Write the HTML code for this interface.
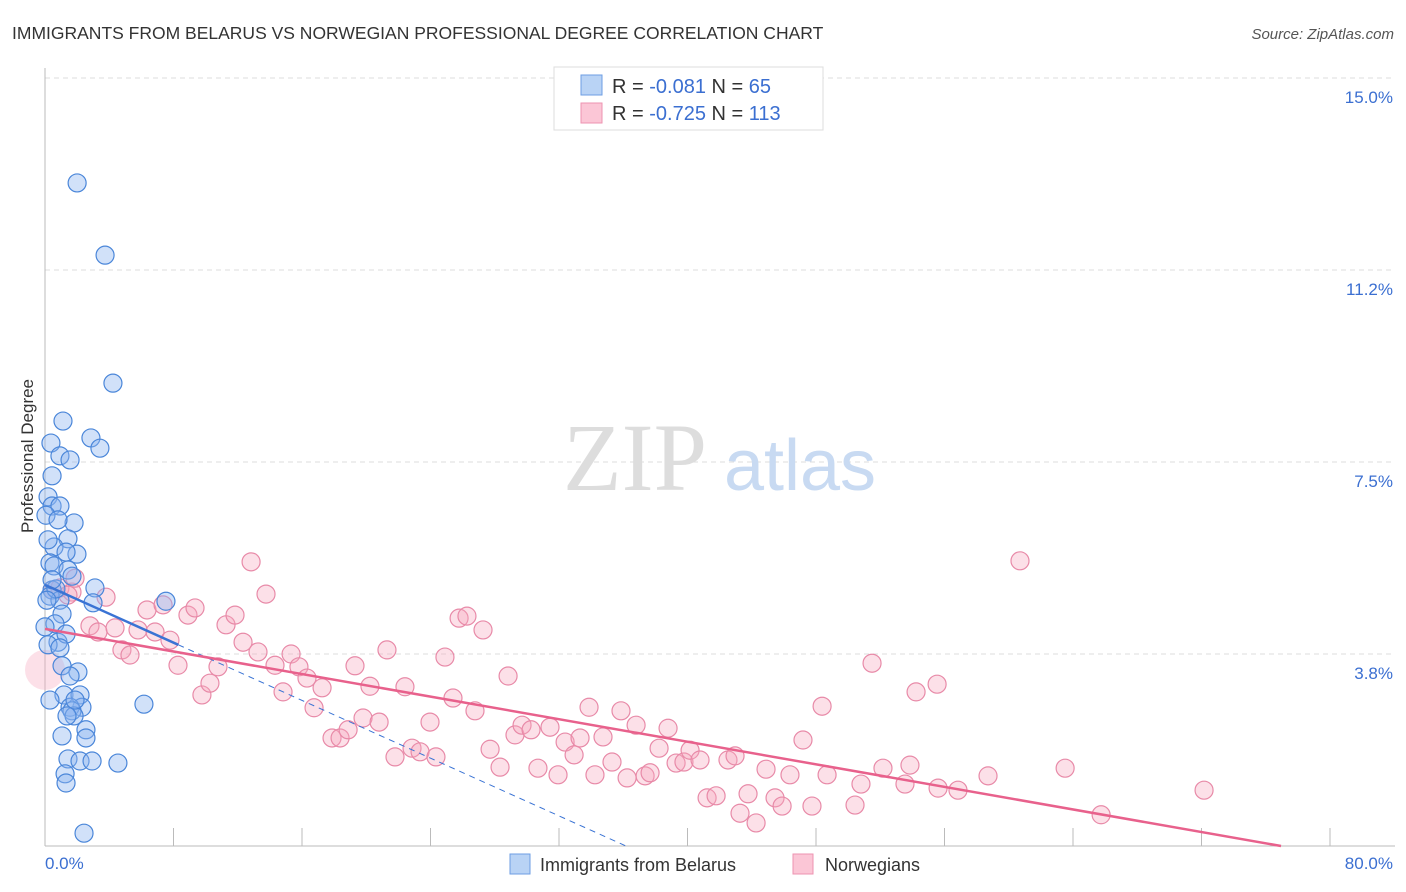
<!DOCTYPE html>
<html><head><meta charset="utf-8"><style>
body{margin:0;background:#fff;font-family:"Liberation Sans",sans-serif}
svg{display:block}
</style></head><body>
<svg id="chart" width="1406" height="892" xmlns="http://www.w3.org/2000/svg">
<text x="12" y="39" font-size="17.5" fill="#333">IMMIGRANTS FROM BELARUS VS NORWEGIAN PROFESSIONAL DEGREE CORRELATION CHART</text>
<text x="1394" y="39" font-size="15" fill="#555" font-style="italic" text-anchor="end">Source: ZipAtlas.com</text>
<g id="grid"></g>
<g>
<text x="635" y="490" font-family="Liberation Serif,serif" font-size="96" fill="#ddd" text-anchor="middle">ZIP</text>
<text x="800" y="490" font-size="72" fill="#c8daf2" text-anchor="middle">atlas</text>
</g>
<line x1="45" y1="68" x2="45" y2="846" stroke="#bbb"/>
<line x1="45" y1="846" x2="1395" y2="846" stroke="#bbb"/>
<text transform="translate(33,456) rotate(-90)" font-size="17" fill="#333" text-anchor="middle">Professional Degree</text>
<text x="45" y="869" font-size="17" fill="#3b6fd1">0.0%</text>
<text x="1393" y="869" font-size="17" fill="#3b6fd1" text-anchor="end">80.0%</text>
<g id="pts"></g>
<g id="lines"></g>
<g>
<rect x="554" y="67" width="269" height="63" fill="#fff" stroke="#ddd"/>
<rect x="581" y="75" width="21" height="20" fill="#b9d3f5" stroke="#6d9ee3"/>
<rect x="581" y="103" width="21" height="20" fill="#fbc6d6" stroke="#ee93b0"/>
<text x="612" y="93" font-size="20" fill="#333">R = <tspan fill="#3b6fd1">-0.081</tspan>   N = <tspan fill="#3b6fd1"> 65</tspan></text>
<text x="612" y="120" font-size="20" fill="#333">R = <tspan fill="#3b6fd1">-0.725</tspan>   N = <tspan fill="#3b6fd1">113</tspan></text>
</g>
<g>
<rect x="510" y="854" width="20" height="20" fill="#b9d3f5" stroke="#6d9ee3"/>
<text x="540" y="871" font-size="18" fill="#333">Immigrants from Belarus</text>
<rect x="793" y="854" width="20" height="20" fill="#fbc6d6" stroke="#ee93b0"/>
<text x="825" y="871" font-size="18" fill="#333">Norwegians</text>
</g>
</svg>
<script>
const yTicks=[3.75,7.5,11.25,15];
const yTickLabels=["3.8%","7.5%","11.2%","15.0%"];
const xTicks=[8,16,24,32,40,48,56,64,72,80];
const belarusX=[2.0,3.74,4.23,1.12,2.86,3.42,0.37,0.93,1.56,0.44,0.19,0.44,0.93,0.06,1.81,1.43,0.56,1.99,1.31,0.31,0.56,1.43,1.68,3.11,0.44,0.31,0.93,2.99,7.53,1.06,0.62,0.81,1.31,0,0.19,0.93,2.05,1.06,1.56,1.18,2.18,2.30,1.56,1.68,1.81,2.55,6.16,1.06,2.55,1.43,2.18,2.93,4.54,1.25,1.31,2.43,0.68,0.44,0.19,0.81,0.12,0.31,1.37,1.87];
const belarusY=[12.95,11.54,9.04,8.30,7.97,7.77,7.87,7.62,7.54,7.23,6.82,6.64,6.64,6.46,6.31,6.0,5.84,5.70,5.74,5.53,5.47,5.39,5.27,5.04,5.0,4.88,4.80,4.75,4.78,4.53,4.34,3.98,4.14,4.28,3.93,3.87,3.40,3.52,3.32,2.95,2.95,2.71,2.71,2.64,2.54,2.27,2.77,2.15,2.11,1.70,1.66,1.66,1.62,1.41,1.23,0.25,5.02,5.2,5.98,6.37,4.80,2.85,2.54,2.85];
const norX=[0.44,0.93,1.68,1.43,1.87,2.80,3.30,4.36,3.80,4.79,5.29,5.79,6.35,6.85,7.35,7.78,8.28,8.90,9.34,9.77,10.27,10.77,11.27,11.83,12.33,12.83,13.26,13.76,14.32,14.82,15.32,15.81,16.31,16.75,17.25,17.87,18.37,18.87,19.30,19.80,20.23,20.80,21.29,21.79,22.41,22.85,23.35,23.97,24.34,24.90,25.40,25.78,26.27,26.77,27.27,27.71,28.33,28.83,29.26,29.70,30.26,30.69,31.44,31.94,32.38,32.94,33.31,33.87,34.24,34.74,35.30,35.86,36.24,36.80,37.36,37.67,38.23,38.79,39.29,39.78,40.16,40.78,41.22,41.78,42.52,42.96,43.27,43.77,44.27,44.89,45.45,45.89,46.38,47.19,47.75,48.38,48.69,50.43,50.80,51.49,52.17,53.54,53.85,54.23,55.60,55.54,56.84,58.71,60.70,63.51,65.75,72.16];
const norY=[5.0,5.04,4.96,4.90,5.23,4.30,4.18,4.26,4.86,3.83,3.73,4.22,4.61,4.18,4.71,4.02,3.53,4.51,4.65,2.95,3.18,3.50,4.32,4.51,3.98,5.55,3.79,4.92,3.53,3.01,3.75,3.50,3.28,2.70,3.09,2.11,2.11,2.27,3.52,2.50,3.12,2.42,3.83,1.74,3.11,1.91,1.84,2.42,1.74,3.69,2.89,4.45,4.49,2.64,4.22,1.89,1.54,3.32,2.17,2.36,2.27,1.52,2.32,1.39,2.03,1.78,2.11,2.71,1.39,2.13,1.64,2.64,1.33,2.36,1.37,1.43,1.91,2.30,1.62,1.64,1.87,1.68,0.94,0.98,1.68,1.76,0.64,1.02,0.45,1.50,0.94,0.78,1.39,2.07,0.78,2.73,1.39,0.80,1.21,3.57,1.52,1.21,1.58,3.01,1.13,3.16,1.09,1.37,5.57,1.52,0.61,1.09];
const bigNor=[0,3.44];
const belarusTrend=[5.10,-0.141];
const norTrend=[4.24,-0.0551];
const NS="http://www.w3.org/2000/svg";
const xs=v=>45+v*(1285/80);
const ys=v=>846-v*(768/15);
function mk(tag,attrs,parent){const e=document.createElementNS(NS,tag);for(const k in attrs)e.setAttribute(k,attrs[k]);parent.appendChild(e);return e;}
const grid=document.getElementById('grid');
yTicks.forEach((t,i)=>{
  const l=mk('line',{x1:45,x2:1395,y1:ys(t),y2:ys(t),stroke:'#ddd','stroke-dasharray':'5,4'},grid);
  
  
  const tx=mk('text',{x:1393,y:ys(t)+25,'font-size':17,fill:'#3b6fd1','text-anchor':'end'},grid);
  tx.textContent=yTickLabels[i];
  
  
});
xTicks.forEach(t=>{
  const l=mk('line',{x1:xs(t),x2:xs(t),y1:828,y2:846,stroke:'#bbb'},grid);
  
  
});
const pts=document.getElementById('pts');
const bc=mk('circle',{cx:xs(bigNor[0]),cy:ys(bigNor[1]),r:20,fill:'rgba(245,165,190,0.35)',stroke:'none'},pts);


norX.forEach((x,i)=>{
  const c=mk('circle',{cx:xs(x),cy:ys(norY[i]),r:9,fill:'rgba(245,165,190,0.35)',stroke:'#e88aa8','stroke-width':1.2},pts);
  
  
});
belarusX.forEach((x,i)=>{
  const c=mk('circle',{cx:xs(x),cy:ys(belarusY[i]),r:9,fill:'rgba(140,180,240,0.4)',stroke:'#4a86d9','stroke-width':1.2},pts);
  
  
});
const lines=document.getElementById('lines');
const bEnd=-belarusTrend[0]/belarusTrend[1];
const l1=mk('line',{x1:xs(0),y1:ys(belarusTrend[0]),x2:xs(8.3),y2:ys(belarusTrend[0]+belarusTrend[1]*8.3),stroke:'#3a73d4','stroke-width':2.5},lines);


const l2=mk('line',{x1:xs(8.3),y1:ys(belarusTrend[0]+belarusTrend[1]*8.3),x2:xs(bEnd),y2:ys(0),stroke:'#3a73d4','stroke-width':1,'stroke-dasharray':'6,5'},lines);


const nEnd=-norTrend[0]/norTrend[1];
const l3=mk('line',{x1:xs(0),y1:ys(norTrend[0]),x2:xs(nEnd),y2:ys(0),stroke:'#e8618c','stroke-width':2.5},lines);


</script>
</body></html>
